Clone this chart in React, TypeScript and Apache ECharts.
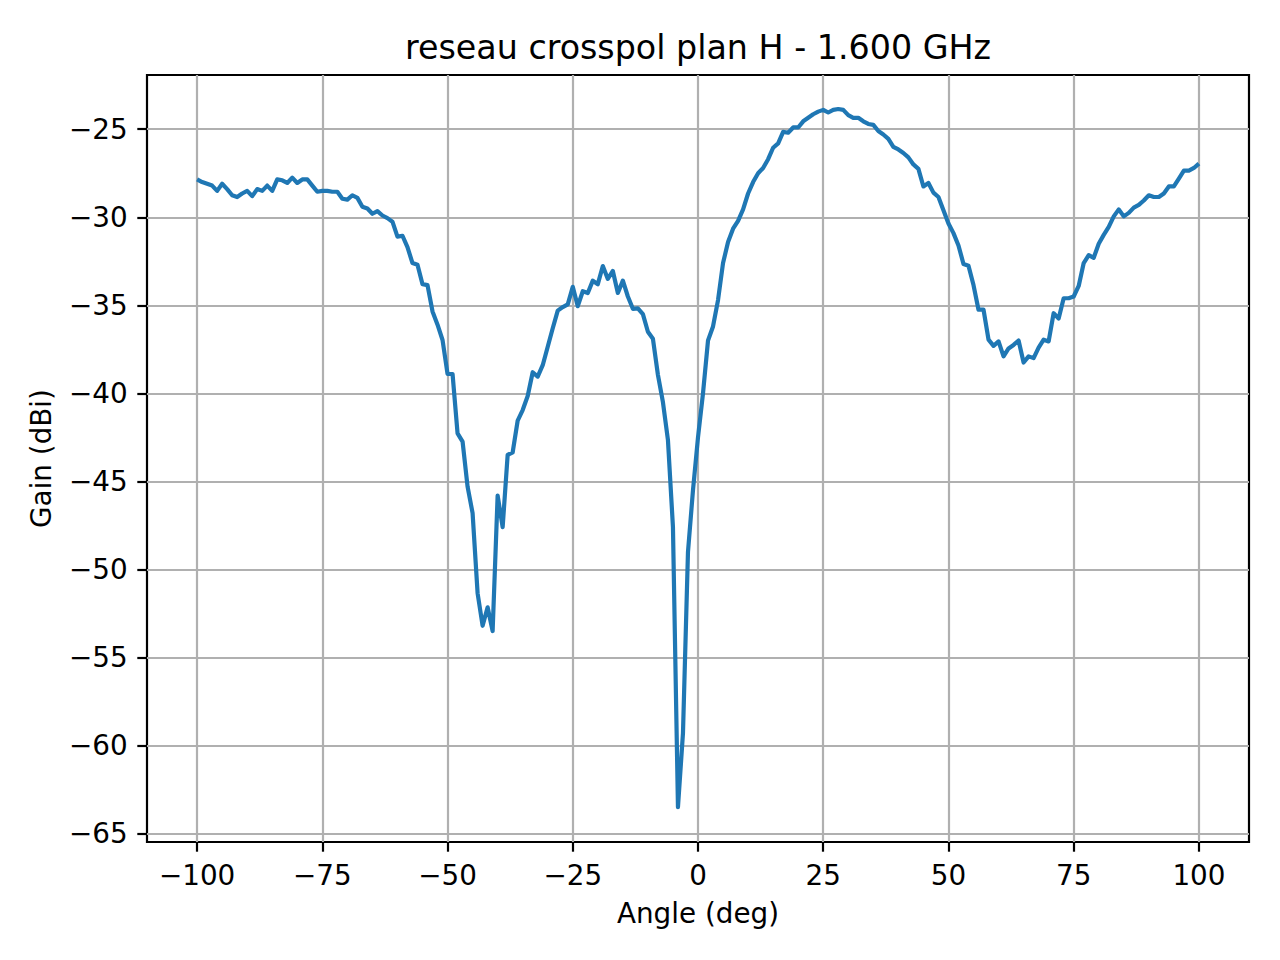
import { useEffect, useRef } from "react"
import * as echarts from "echarts"

// angles run from -100 to 100 deg, one sample per degree
const ANGLE_START = -100
const ANGLE_STEP = 1

// gain in dBi
const gainDbi = [
  -27.85, -28.0, -28.1, -28.2, -28.5, -28.1, -28.4, -28.75, -28.85, -28.65,
  -28.5, -28.8, -28.4, -28.5, -28.2, -28.5, -27.85, -27.9, -28.05, -27.75,
  -28.05, -27.85, -27.85, -28.2, -28.55, -28.5, -28.5, -28.55, -28.55, -28.95,
  -29.0, -28.75, -28.9, -29.4, -29.5, -29.8, -29.65, -29.9, -30.05, -30.25,
  -31.1, -31.05, -31.7, -32.6, -32.7, -33.8, -33.85, -35.35, -36.1, -36.97,
  -38.9, -38.9, -42.27, -42.74, -45.3, -46.8, -51.35, -53.2, -52.15, -53.5,
  -45.8, -47.6, -43.5, -43.35, -41.55, -40.95, -40.15, -38.8, -39.05, -38.4,
  -37.35, -36.3, -35.3, -35.1, -34.95, -33.95, -35.05, -34.2, -34.3, -33.6,
  -33.8, -32.77, -33.5, -33.05, -34.3, -33.6, -34.5, -35.2, -35.17, -35.5,
  -36.5, -36.9, -38.95, -40.5, -42.65, -47.6, -63.5, -59.3, -49.0, -45.5,
  -42.5, -40.0, -37.0, -36.2, -34.7, -32.6, -31.4, -30.65, -30.2, -29.55,
  -28.65, -28.0, -27.5, -27.2, -26.7, -26.05, -25.8, -25.15, -25.2, -24.9,
  -24.9, -24.55, -24.35, -24.15, -24.0, -23.9, -24.05, -23.9, -23.85, -23.9,
  -24.2, -24.35, -24.35, -24.55, -24.7, -24.75, -25.1, -25.3, -25.55, -26.0,
  -26.15, -26.35, -26.6, -27.0, -27.25, -28.25, -28.05, -28.6, -28.85, -29.6,
  -30.35, -30.9, -31.6, -32.65, -32.75, -33.85, -35.25, -35.25, -36.95, -37.3,
  -37.05, -37.9, -37.45, -37.25, -37.0, -38.25, -37.9, -38.0, -37.4, -36.95,
  -37.05, -35.45, -35.75, -34.6, -34.6, -34.5, -33.9, -32.6, -32.15, -32.3,
  -31.5, -31.0, -30.55, -29.95, -29.55, -29.95, -29.75, -29.45, -29.3, -29.05,
  -28.75, -28.85, -28.85, -28.65, -28.25, -28.25, -27.8, -27.35, -27.35, -27.2,
  -26.95,
]

const xTicks = [-100, -75, -50, -25, 0, 25, 50, 75, 100]
const yTicks = [-65, -60, -55, -50, -45, -40, -35, -30, -25]

const FONT = "DejaVu Sans"
// matplotlib writes negative numbers with a real minus sign
const fmt = (v: number) => (v < 0 ? "\u2212" + Math.abs(v) : String(v))

export default function App() {
  const chartRef = useRef<HTMLDivElement>(null)

  useEffect(() => {
    if (!chartRef.current) return
    const chart = echarts.init(chartRef.current, null, { renderer: "svg" })

    const points = gainDbi.map((g, i) => [ANGLE_START + i * ANGLE_STEP, g])

    chart.setOption({
      animation: false,
      backgroundColor: "#ffffff",
      textStyle: { fontFamily: FONT },
      grid: {
        left: 147,
        top: 75,
        width: 1102,
        height: 767,
        show: true,
        borderColor: "#000000",
        borderWidth: 2.2,
        backgroundColor: "transparent",
      },
      graphic: [
        {
          type: "text",
          x: 698,
          y: 47,
          style: {
            text: "reseau crosspol plan H - 1.600 GHz",
            font: `33.3px "${FONT}"`,
            fill: "#000000",
            textAlign: "center",
            textVerticalAlign: "middle",
          },
        },
      ],
      xAxis: {
        type: "value",
        min: -110,
        max: 110,
        name: "Angle (deg)",
        nameLocation: "middle",
        nameGap: 57,
        nameTextStyle: { color: "#000", fontSize: 27.8, fontFamily: FONT },
        axisLine: { show: false, onZero: false },
        axisTick: {
          show: true,
          length: 9.7,
          customValues: xTicks,
          lineStyle: { color: "#000", width: 2.2 },
        },
        axisLabel: {
          customValues: xTicks,
          formatter: fmt,
          color: "#000",
          fontSize: 27.8,
          fontFamily: FONT,
          margin: 19.5,
        },
        splitLine: { show: true, lineStyle: { color: "#b0b0b0", width: 2.2 } },
      },
      yAxis: {
        type: "value",
        min: -65.48,
        max: -21.92,
        name: "Gain (dBi)",
        nameLocation: "middle",
        nameGap: 92,
        nameRotate: 90,
        nameTextStyle: { color: "#000", fontSize: 27.8, fontFamily: FONT },
        axisLine: { show: false, onZero: false },
        axisTick: {
          show: true,
          length: 9.7,
          customValues: yTicks,
          lineStyle: { color: "#000", width: 2.2 },
        },
        axisLabel: {
          customValues: yTicks,
          formatter: fmt,
          color: "#000",
          fontSize: 27.8,
          fontFamily: FONT,
          margin: 19.4,
        },
        splitLine: { show: true, lineStyle: { color: "#b0b0b0", width: 2.2 } },
      },
      series: [
        {
          type: "line",
          data: points,
          showSymbol: false,
          symbol: "none",
          lineStyle: { color: "#1f77b4", width: 4.2, join: "round", cap: "butt" },
          z: 3,
        },
      ],
    })

    return () => {
      chart.dispose()
    }
  }, [])

  return (
    <div
      ref={chartRef}
      style={{ position: "absolute", left: 0, top: 0, width: 1280, height: 960 }}
    />
  )
}
